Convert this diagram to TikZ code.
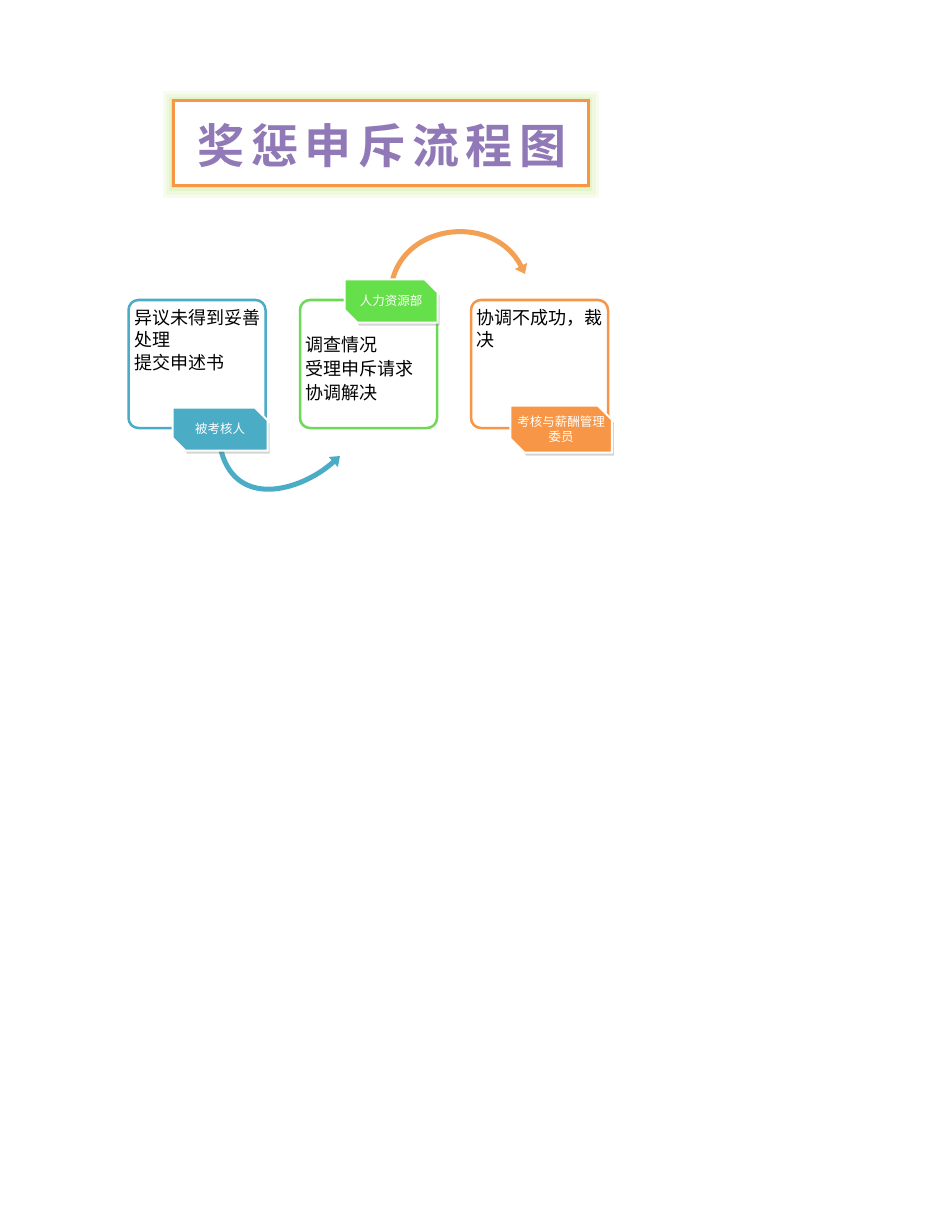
\documentclass[tikz,border=0pt]{standalone}
\usepackage{fontspec}
\setmainfont{Noto Sans CJK SC}[BoldFont={Noto Sans CJK SC Bold}]
\usetikzlibrary{shapes.misc,arrows.meta,shadows}
\definecolor{cblue}{HTML}{4BACC6}
\definecolor{cgreen}{HTML}{6DD957}
\definecolor{cgreenfill}{HTML}{66E04A}
\definecolor{corange}{HTML}{F79646}
\definecolor{carrow}{HTML}{F2A054}
\definecolor{ctitle}{HTML}{9079B6}
\definecolor{cglow}{HTML}{D6F0AE}
\tikzset{
  mainbox/.style={draw, line width=2.5pt, rounded corners=10pt, fill=white,
    minimum width=137pt, minimum height=128pt, inner sep=0pt},
  boxtext/.style={anchor=west, inner sep=0pt, font=\fontsize{18}{22}\selectfont, text=black},
  tagbox/.style={chamfered rectangle, chamfered rectangle corners={north east,south west},
    chamfered rectangle xsep=7pt, chamfered rectangle ysep=7pt,
    draw=white, line width=2pt, inner sep=0pt, text=white, align=center,
    font=\fontsize{12.5}{15}\selectfont,
    drop shadow={shadow xshift=2pt, shadow yshift=-3pt, opacity=0.3, fill=black!55}},
  flowarrow/.style={line width=5pt, -{Triangle[length=9pt,width=13pt]}},
}
\begin{document}
\begin{tikzpicture}[x=1pt,y=-1pt]
\useasboundingbox[fill=white] (0,0) rectangle (950,1230);

% title glow and frame
\fill[cglow!20] (163,91) rectangle (599,198);
\fill[cglow!40] (166,94) rectangle (596,195);
\fill[cglow!65] (169,97) rectangle (592,191);
\fill[cglow] (171,99) rectangle (590,188);
\node[draw=corange, line width=3pt, fill=white, minimum width=415pt, minimum height=85pt,
  inner sep=0pt] (titlebox) at (380.5,143.5) {};
\node[text=ctitle, font=\fontsize{47}{50}\selectfont\bfseries\addfontfeature{LetterSpace=14}]
  (title) at (382,146) {奖惩申斥流程图};

% main boxes
\node[mainbox, draw=cblue] (b1) at (197,364) {};
\node[mainbox, draw=cgreen] (b2) at (368.5,364) {};
\node[mainbox, draw=corange] (b3) at (539.5,364) {};

\node[boxtext] (b1a) at (134,318) {异议未得到妥善};
\node[boxtext] (b1b) at (134,340) {处理};
\node[boxtext] (b1c) at (134,363) {提交申述书};

\node[boxtext] (b2a) at (305,345) {调查情况};
\node[boxtext] (b2b) at (305,369) {受理申斥请求};
\node[boxtext] (b2c) at (305,393) {协调解决};

\node[boxtext] (b3a) at (476,318) {协调不成功，裁};
\node[boxtext] (b3b) at (476,340) {决};

% arrows (start hidden under tags)
\coordinate (s1) at (220,446);
\coordinate (e1) at (340,456);
\coordinate (s2) at (392,282);
\coordinate (e2) at (525,274);
\draw[flowarrow, draw=cblue] (s1) .. controls (233,510) and (300,492) .. (e1);
\draw[flowarrow, draw=carrow] (s2) .. controls (405,222) and (495,214) .. (e2);

% tags
\node[tagbox, fill=cblue, minimum width=95pt, minimum height=43pt] (t1) at (220,429) {被考核人};
\node[tagbox, fill=cgreenfill, minimum width=93pt, minimum height=43pt] (t2) at (391,301) {人力资源部};
\node[tagbox, fill=corange, minimum width=101pt, minimum height=47pt] (t3) at (561,429) {考核与薪酬管理\\委员};
\end{tikzpicture}
\end{document}
